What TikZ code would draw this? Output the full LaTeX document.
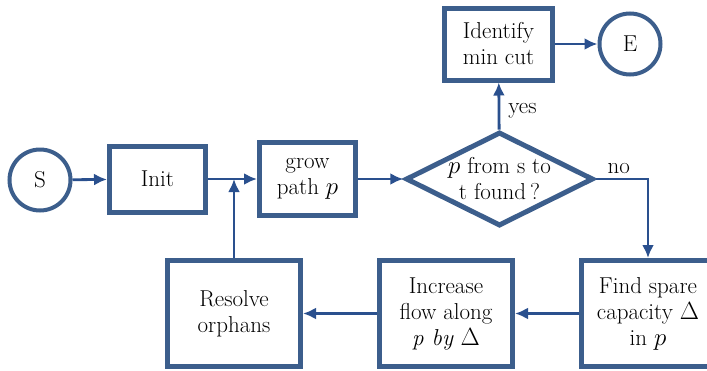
\documentclass[tikz,border=0pt]{standalone}
\usetikzlibrary{shapes.geometric, arrows.meta}
\definecolor{boxblue}{RGB}{60,94,140}
\definecolor{lineblue}{RGB}{42,80,142}
\newcommand{\chartfont}{\fontsize{23}{26}\selectfont}
\tikzset{
    terminal/.style = {circle, draw=boxblue, line width=4pt, fill=white, minimum size=61pt, inner sep=0pt, font=\chartfont},
    process/.style = {rectangle, draw=boxblue, line width=5pt, fill=white, minimum width=96pt, minimum height=66pt, inner sep=0pt, align=center, font=\chartfont},
    decision/.style = {diamond, aspect=2, draw=boxblue, line width=5pt, fill=white, minimum width=174pt, minimum height=94pt, inner sep=0pt, align=center, font=\chartfont},
    arrow/.style = {draw=lineblue, line width=2.8pt, -{Latex[length=13pt,width=12pt]}},
    answer/.style = {font=\chartfont, inner sep=1pt}
}

\begin{document}
\begin{tikzpicture}[x=1pt, y=-1pt]
    \useasboundingbox (0,0) rectangle (707,370);

    % top row
    \node[terminal] (s) at (40,180) {S};
    \node[process] (init) at (157.5,179) {Init};
    \node[process, minimum height=73pt] (grow) at (307.5,179) {grow\\path $p$};
    \node[decision] (found) at (499.5,179) {$p$ from s to\\t found\,?};
    \node[process, minimum width=108pt, minimum height=72pt] (cut) at (498.5,44) {Identify\\min cut};
    \node[terminal] (e) at (630,44) {E};

    % bottom row
    \node[process, minimum width=133pt, minimum height=106pt] (resolve) at (234,313.5) {Resolve\\orphans};
    \node[process, minimum width=133pt, minimum height=106pt] (increase) at (446,313.5) {Increase\\flow along\\\textit{p by}~$\Delta$};
    \node[process, minimum width=133pt, minimum height=106pt] (spare) at (648,313.5) {Find spare\\capacity $\Delta$\\in $p$};

    \draw[arrow] (s) -- (init);
    \draw[arrow] (init) -- (grow);
    \draw[arrow] (grow) -- (found);
    \draw[arrow] (found) -- node[answer, right, pos=0.4, xshift=7pt] {yes} (cut);
    \draw[arrow] (cut) -- (e);
    \draw[arrow] (found.east) -| node[answer, above, pos=0.22, yshift=3pt] {no} (spare.north);
    \draw[arrow] (spare) -- (increase);
    \draw[arrow] (increase) -- (resolve);
    \draw[arrow] (resolve.north) -- (resolve.north |- init.east);
\end{tikzpicture}
\end{document}
